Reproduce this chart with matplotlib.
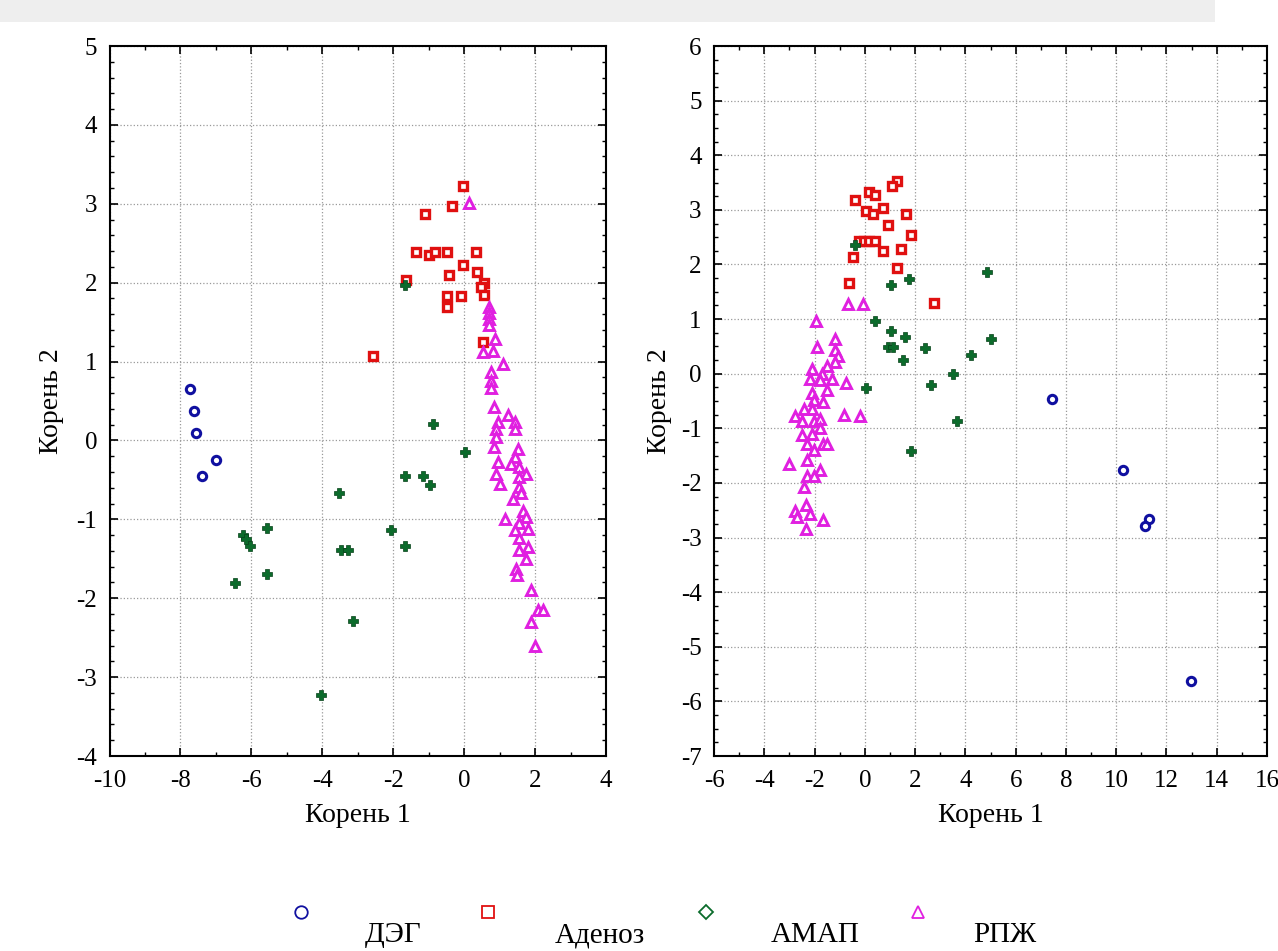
import numpy as np
import matplotlib.pyplot as plt
from matplotlib.ticker import MultipleLocator
from matplotlib.patches import Rectangle

plt.rcParams['font.family'] = ['Liberation Serif', 'DejaVu Serif']
plt.rcParams['axes.unicode_minus'] = False

# ---- Left panel data (Корень 1, Корень 2)
deg1_x = [-7.73, -7.62, -7.56, -7.00, -7.39]
deg1_y = [0.65, 0.37, 0.09, -0.25, -0.45]

aden1_x = [-0.02, -0.33, -1.11, -1.37, -0.99, -0.81, -0.48, 0.32, -0.02, -0.42, 0.37,
           -1.63, 0.55, 0.48, 0.55, -0.48, -0.09, -0.48, 0.53, -2.57]
aden1_y = [3.22, 2.97, 2.87, 2.39, 2.35, 2.39, 2.39, 2.39, 2.22, 2.10, 2.14,
           2.03, 1.99, 1.94, 1.84, 1.83, 1.83, 1.69, 1.25, 1.07]

amap1_x = [-0.88, -1.68, -1.16, -0.97, -3.53, -6.23, -6.15, -5.57, -6.04, -5.57, -6.45,
           -3.46, -3.27, -2.07, -1.68, -3.13, -4.05, 0.03, -1.68]
amap1_y = [0.21, -0.45, -0.45, -0.56, -0.66, -1.20, -1.25, -1.11, -1.34, -1.69, -1.81,
           -1.39, -1.39, -1.14, -1.34, -2.29, -3.22, -0.14, 1.97]

rpzh1_x = [0.13, 0.70, 0.70, 0.70, 0.70, 0.86, 0.81, 0.53, 1.09, 0.77, 0.77, 0.77, 0.83,
           1.23, 0.95, 1.42, 1.42, 0.91, 0.91, 0.83, 1.52, 1.42, 1.33, 1.56, 0.95, 0.91,
           1.75, 1.56, 1.00, 1.56, 1.61, 1.38, 1.66, 1.75, 1.14, 1.56, 1.80, 1.42, 1.56,
           1.80, 1.56, 1.75, 1.47, 1.49, 1.89, 2.08, 2.22, 1.89, 2.01]
rpzh1_y = [3.01, 1.69, 1.61, 1.54, 1.46, 1.29, 1.14, 1.12, 0.97, 0.87, 0.76, 0.66, 0.42,
           0.32, 0.23, 0.23, 0.15, 0.15, 0.04, -0.08, -0.11, -0.21, -0.30, -0.34, -0.27, -0.42,
           -0.42, -0.46, -0.55, -0.59, -0.66, -0.74, -0.89, -0.97, -0.99, -1.04, -1.12, -1.14, -1.23,
           -1.35, -1.39, -1.50, -1.63, -1.71, -1.90, -2.15, -2.15, -2.30, -2.60]

# ---- Right panel data
deg2_x = [7.45, 10.27, 11.30, 11.13, 12.96]
deg2_y = [-0.47, -1.77, -2.66, -2.79, -5.63]

aden2_x = [1.28, 1.08, 0.15, 0.39, -0.41, 0.72, 0.06, 0.31, 1.64, 0.94, 1.85,
           -0.25, -0.05, 0.15, 0.39, 1.42, 0.72, -0.49, 1.28, -0.63, 2.76]
aden2_y = [3.53, 3.43, 3.33, 3.28, 3.18, 3.04, 2.98, 2.93, 2.93, 2.72, 2.54,
           2.43, 2.43, 2.43, 2.43, 2.29, 2.24, 2.14, 1.93, 1.67, 1.29]

amap2_x = [-0.38, 1.74, 1.05, 0.41, 1.05, 1.61, 0.94, 1.14, 2.41, 4.23, 5.00, 1.52,
           3.51, 0.06, 2.63, 3.67, 1.85, 4.88]
amap2_y = [2.35, 1.73, 1.63, 0.97, 0.78, 0.67, 0.49, 0.49, 0.47, 0.34, 0.63, 0.25,
           -0.01, -0.26, -0.21, -0.86, -1.41, 1.86]

rpzh2_x = [-0.65, -0.08, -1.94, -1.18, -1.91, -1.18, -1.05, -1.18, -1.51, -2.11, -1.71,
           -2.20, -1.80, -1.31, -0.74, -1.51, -2.11, -1.65, -2.04, -2.44, -2.11, -0.82,
           -0.18, -2.77, -2.51, -2.04, -1.78, -1.78, -2.11, -2.51, -2.31, -1.65, -1.51,
           -2.04, -2.31, -3.00, -1.78, -2.31, -2.04, -2.41, -2.33, -2.77, -2.71, -2.20,
           -1.65, -2.33]
rpzh2_y = [1.27, 1.27, 0.96, 0.63, 0.49, 0.44, 0.32, 0.22, 0.14, 0.09, 0.00,
           -0.09, -0.12, -0.09, -0.17, -0.29, -0.35, -0.52, -0.49, -0.64, -0.64, -0.76,
           -0.78, -0.78, -0.86, -0.86, -0.82, -1.00, -1.10, -1.13, -1.29, -1.29, -1.29,
           -1.40, -1.58, -1.66, -1.77, -1.88, -1.88, -2.08, -2.41, -2.51, -2.62, -2.57,
           -2.67, -2.84]

group_names = ['ДЭГ', 'Аденоз', 'АМАП', 'РПЖ']
group_colors = ['#1010a0', '#e01010', '#0b6b2b', '#e020e0']

fig = plt.figure(figsize=(12.78, 9.51), dpi=100)
fig.patches.append(Rectangle((0, 0.977), 0.951, 0.023, transform=fig.transFigure,
                             facecolor='#eeeeee', edgecolor='none', zorder=-1))

ax1 = fig.add_axes([0.0857, 0.205, 0.3885, 0.7466])
ax2 = fig.add_axes([0.5587, 0.205, 0.4327, 0.7466])


def draw_panel(ax, deg, aden, amap, rpzh):
    ax.plot(deg[0], deg[1], 'o', ms=6, mfc='white', mec=group_colors[0], mew=2.2, zorder=3)
    ax.plot(aden[0], aden[1], 's', ms=6, mfc='white', mec=group_colors[1], mew=2.4, zorder=3)
    ax.plot(amap[0], amap[1], 'P', ms=6.5, color=group_colors[2], mec='#064018', mew=0.5, zorder=3)
    ax.plot(rpzh[0], rpzh[1], '^', ms=6.5, mfc='white', mec=group_colors[3], mew=2.1, zorder=3)
    ax.grid(True, which='major', color='#999999', linestyle=':', linewidth=0.9)
    ax.tick_params(which='both', direction='in', top=True, right=True, labelsize=18)
    ax.tick_params(axis='x', pad=10)
    ax.tick_params(axis='y', pad=9)
    ax.tick_params(which='major', length=6, width=1.2)
    ax.tick_params(which='minor', length=3, width=1.0)
    for sp in ax.spines.values():
        sp.set_linewidth(1.5)
    ax.set_xlabel('Корень 1', fontsize=20, labelpad=8)
    ax.set_ylabel('Корень 2', fontsize=20, labelpad=9)


draw_panel(ax1, (deg1_x, deg1_y), (aden1_x, aden1_y), (amap1_x, amap1_y), (rpzh1_x, rpzh1_y))
ax1.set_xlim(-10, 4)
ax1.set_ylim(-4, 5)
ax1.xaxis.set_major_locator(MultipleLocator(2))
ax1.xaxis.set_minor_locator(MultipleLocator(1))
ax1.yaxis.set_major_locator(MultipleLocator(1))
ax1.yaxis.set_minor_locator(MultipleLocator(0.2))

draw_panel(ax2, (deg2_x, deg2_y), (aden2_x, aden2_y), (amap2_x, amap2_y), (rpzh2_x, rpzh2_y))
ax2.set_xlim(-6, 16)
ax2.set_ylim(-7, 6)
ax2.xaxis.set_major_locator(MultipleLocator(2))
ax2.xaxis.set_minor_locator(MultipleLocator(1))
ax2.yaxis.set_major_locator(MultipleLocator(1))
ax2.yaxis.set_minor_locator(MultipleLocator(0.25))
ax2.yaxis.labelpad = 6

# legend: hollow symbol above-left of each label
leg = fig.add_axes([0, 0, 1, 0.1])
leg.set_xlim(0, 1278)
leg.set_ylim(95.1, 0)
leg.axis('off')
leg_markers = ['o', 's', 'D', '^']
leg_sym_x = [301, 488, 706, 918]
leg_txt_x = [393, 600, 815, 1005]
for m, c, sx, tx, name in zip(leg_markers, group_colors, leg_sym_x, leg_txt_x, group_names):
    leg.plot(sx, 912 - 855.9, m, ms=9 if m != 'D' else 7, mfc='none', mec=c, mew=1.3)
    leg.text(tx, 935 - 855.9, name, fontsize=21, ha='center', va='center')

fig.savefig('out.png', dpi=100)
